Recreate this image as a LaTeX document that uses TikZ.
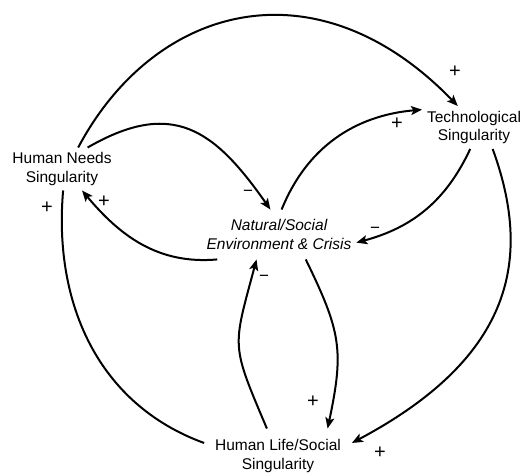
\documentclass[tikz,border=0pt]{standalone}
\usepackage{fontspec}
\setmainfont{Liberation Sans}
\usetikzlibrary{arrows.meta}

\begin{document}
\begin{tikzpicture}[->,>={Stealth[length=11pt,width=9pt,inset=2.5pt]},x=1pt,y=1pt,line width=2pt,
  main node/.style={align=center,inner sep=2pt,outer sep=3pt,font=\fontsize{15.5}{18.5}\selectfont},
  sign/.style={inner sep=0pt,font=\fontsize{20}{20}\selectfont},
  minus sign/.style={inner sep=0pt,font=\fontsize{17}{17}\selectfont}]

            \useasboundingbox (0,0) rectangle (530,-473);

            \node[main node] (1) at (62,-169) {Human Needs\\Singularity};
            \node[main node] (2) at (474,-127.5) {Technological\\Singularity};
            \node[main node,outer ysep=8pt,font=\fontsize{15.5}{18.5}\selectfont\itshape] (3) at (279,-234.5) {Natural/Social\\Environment \& Crisis};
            \node[main node,outer sep=9pt] (4) at (278,-456) {Human Life/Social\\Singularity};

            % polarities
            \node[sign] (p12) at (455,-72) {+};
            \node[minus sign] (m13) at (248,-193) {−};
            \node[sign] (p32) at (397,-124) {+};
            \node[minus sign] (m23) at (375,-230) {−};
            \node[sign] (p31) at (104,-202) {+};
            \node[sign] (p14) at (47,-208) {+};
            \node[sign] (p34) at (313,-402) {+};
            \node[minus sign] (m43) at (264,-278) {−};
            \node[sign] (p24) at (380,-453) {+};

            \path
                (1.53) edge[out=62,in=134,out looseness=1.1,in looseness=1.35] (2.127)
                (1.40) edge[out=30,in=125,looseness=1.3] (3.109)
                (3.84) edge[out=68,in=185] (2.161)
                (2.260) edge[out=245,in=15] (3.-6)
                (3.202) edge[out=185,in=-50] (1.313)
                (1.273) edge[-,out=265,in=160] (4.170)
                (3.317) edge[out=-64,in=78,looseness=1.2] (4.29)
                (4.112) edge[out=113,in=255,looseness=1.4] (3.228)
                (2.311) edge[out=290,in=28,out looseness=0.9,in looseness=1.45] (4.10)
            ;
        \end{tikzpicture}
\end{document}
